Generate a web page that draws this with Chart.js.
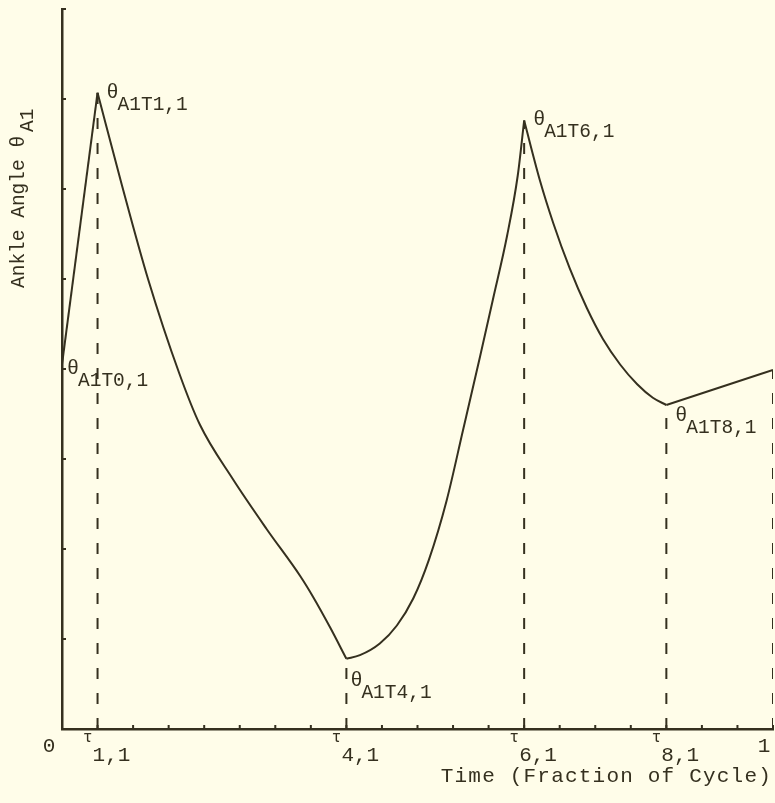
<!DOCTYPE html>
<html>
<head>
<meta charset="utf-8">
<script src="https://cdn.jsdelivr.net/npm/chart.js@4.4.0/dist/chart.umd.min.js"></script>
<style>
  html, body { margin: 0; padding: 0; background: #fffde9; }
  #wrap { width: 775px; height: 803px; }
</style>
</head>
<body>
<div id="wrap"><canvas id="ankleChart" width="775" height="803"></canvas></div>
<script>
// ankle angle curve (x = fraction of cycle, y = grid units)
const timeFrac = [0, 0.05, 0.084, 0.121, 0.165, 0.194, 0.240, 0.288, 0.335, 0.353, 0.377, 0.4,
                  0.419, 0.447, 0.471, 0.494, 0.516, 0.541, 0.564, 0.588, 0.606, 0.626, 0.641, 0.65,
                  0.672, 0.691, 0.714, 0.738, 0.761, 0.785, 0.809, 0.831, 0.85, 1];
const ankleAngle = [4.05, 7.07, 6.05, 5.00, 3.95, 3.38, 2.78, 2.22, 1.70, 1.47, 1.13, 0.78,
                    0.82, 0.95, 1.15, 1.45, 1.88, 2.54, 3.32, 4.14, 4.77, 5.48, 6.15, 6.76,
                    6.10, 5.62, 5.12, 4.68, 4.33, 4.05, 3.83, 3.68, 3.60, 3.99];

// corners of the curve (sharp peaks / valleys)
const cornerTimes = [0.05, 0.4, 0.65, 0.85];
// dashed drop lines down to the time axis
const dropTimes = [0.05, 0.4, 0.65, 0.85, 1];

// theta annotations
const thetaTimes = [0, 0.05, 0.4, 0.65, 0.85];
const thetaSubs = ['A1T0,1', 'A1T1,1', 'A1T4,1', 'A1T6,1', 'A1T8,1'];

// tick labels on the time axis
const tauTimes = [0.05, 0.4, 0.65, 0.85];
const tauSubs = ['1,1', '4,1', '6,1', '8,1'];
const endLabels = ['0', '1'];

const xStep = 0.05, yMax = 8;

const ink = '#35301f';
const MONO = '"Liberation Mono", "DejaVu Sans Mono", monospace';

const angleAt = t => ankleAngle[timeFrac.indexOf(t)];

// split the curve at the corners so each piece is smoothed on its own
const cuts = [0, ...cornerTimes.map(t => timeFrac.indexOf(t)), timeFrac.length - 1];
const datasets = [];
for (let i = 0; i < cuts.length - 1; i++) {
  const pts = [];
  for (let j = cuts[i]; j <= cuts[i + 1]; j++) pts.push({ x: timeFrac[j], y: ankleAngle[j] });
  datasets.push({ data: pts, borderColor: ink, borderWidth: 2, pointRadius: 0,
                  cubicInterpolationMode: 'monotone', fill: false });
}
dropTimes.forEach(t => {
  datasets.push({
    data: [{ x: t, y: 0 }, { x: t, y: angleAt(t) }],
    borderColor: ink, borderWidth: 2, borderDash: [11, 14], pointRadius: 0, fill: false
  });
});

// label offsets (px) of the theta symbol from its point
const thetaOffsets = [[5, 4], [9, 0], [4, 22], [9, -1], [9, 11]];

function font(size) { return size + 'px ' + MONO; }

const paperText = {
  id: 'paperText',
  afterDraw(chart) {
    const { ctx, scales: { x, y } } = chart;
    const axisY = y.getPixelForValue(0);
    const axisX = x.getPixelForValue(0);
    ctx.save();
    ctx.fillStyle = ink;
    ctx.strokeStyle = ink;

    // little tick marks along both axes
    ctx.lineWidth = 2;
    ctx.beginPath();
    for (let k = 1; k * xStep <= 1.0001; k++) {
      const px = x.getPixelForValue(k * xStep);
      ctx.moveTo(px, axisY + 1); ctx.lineTo(px, axisY - 4);
    }
    for (let v = 1; v <= yMax; v++) {
      const py = y.getPixelForValue(v);
      ctx.moveTo(axisX - 1, py); ctx.lineTo(axisX + 4, py);
    }
    ctx.stroke();

    ctx.textBaseline = 'middle';

    // theta labels
    thetaTimes.forEach((t, i) => {
      const px = x.getPixelForValue(t) + thetaOffsets[i][0];
      const py = y.getPixelForValue(angleAt(t)) + thetaOffsets[i][1];
      ctx.font = font(20);
      ctx.textAlign = 'left';
      ctx.fillText('θ', px, py);
      const w = ctx.measureText('θ').width;
      ctx.font = font(19.5);
      ctx.fillText(thetaSubs[i], px + w - 1, py + 12);
    });

    // time axis labels
    ctx.font = font(21);
    ctx.textAlign = 'center';
    ctx.fillText(endLabels[0], axisX - 13, axisY + 17);
    ctx.fillText(endLabels[1], x.getPixelForValue(1) - 9, axisY + 17);
    tauTimes.forEach((t, i) => {
      const left = x.getPixelForValue(t) - 5;
      ctx.font = font(21);
      ctx.textAlign = 'left';
      ctx.fillText(tauSubs[i], left, axisY + 26);
      ctx.font = font(16);
      ctx.textAlign = 'right';
      ctx.fillText('τ', left, axisY + 9);
    });

    // axis titles
    ctx.font = font(21);
    ctx.letterSpacing = '1.2px';
    ctx.textAlign = 'right';
    ctx.fillText('Time (Fraction of Cycle)', x.getPixelForValue(1) - 1, axisY + 47);
    ctx.letterSpacing = '0px';

    ctx.translate(19, 288);
    ctx.rotate(-Math.PI / 2);
    ctx.font = font(19.5);
    ctx.textAlign = 'left';
    ctx.fillText('Ankle Angle θ', 0, 0);
    const tw = ctx.measureText('Ankle Angle θ').width;
    ctx.fillText('A1', tw + 4, 9);
    ctx.restore();
  }
};

new Chart(document.getElementById('ankleChart'), {
  type: 'line',
  data: { datasets },
  options: {
    responsive: false,
    animation: false,
    layout: { padding: { left: 62, right: 2, top: 9, bottom: 74 } },
    plugins: { legend: { display: false }, tooltip: { enabled: false } },
    scales: {
      x: {
        type: 'linear', min: 0, max: 1,
        grid: { display: false, drawTicks: false },
        ticks: { display: false },
        border: { display: true, color: ink, width: 2.5 }
      },
      y: {
        min: 0, max: yMax,
        grid: { display: false, drawTicks: false },
        ticks: { display: false },
        border: { display: true, color: ink, width: 2.5 }
      }
    }
  },
  plugins: [paperText]
});
</script>
</body>
</html>
